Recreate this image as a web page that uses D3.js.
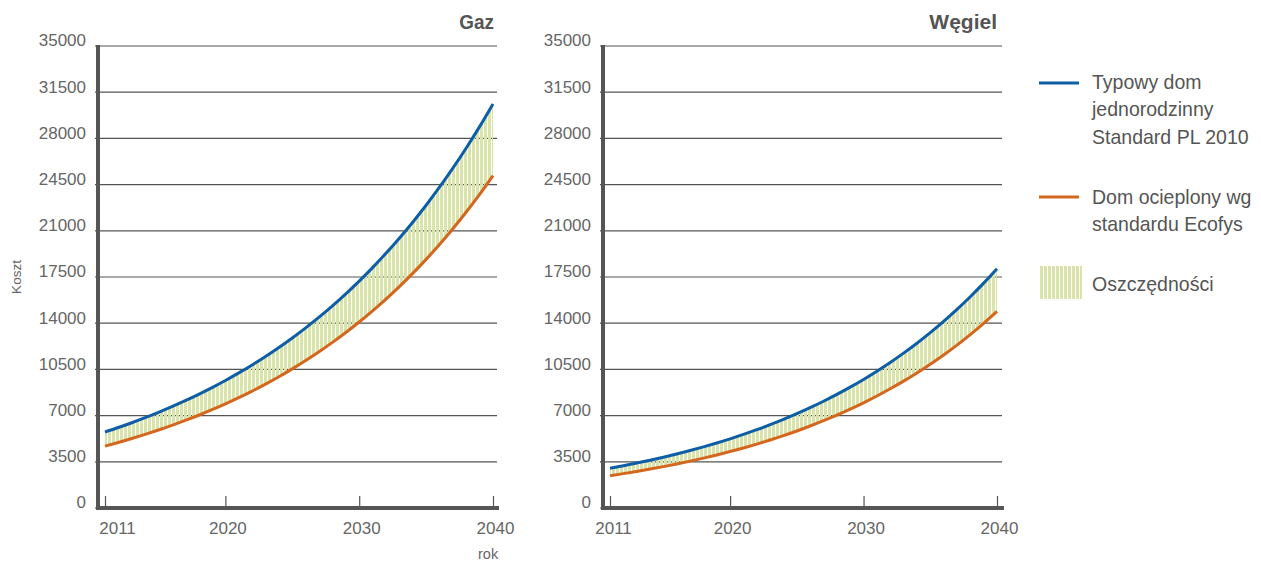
<!DOCTYPE html>
<html>
<head>
<meta charset="utf-8">
<script src="https://cdn.jsdelivr.net/npm/d3@7"></script>
<style>
  html, body { margin: 0; padding: 0; background: #fff; }
  svg { display: block; }
</style>
</head>
<body>
<svg id="chart" width="1261" height="562"></svg>
<script>
// ---------- DATA ----------
const years = [2011,2012,2013,2014,2015,2016,2017,2018,2019,2020,2021,2022,2023,2024,2025,
               2026,2027,2028,2029,2030,2031,2032,2033,2034,2035,2036,2037,2038,2039,2040];
const gazTypowy = [5720,6060,6421,6803,7208,7637,8091,8572,9083,9623,10196,10802,11445,12126,12847,
                   13612,14422,15280,16189,17152,18173,19254,20400,21613,22899,24262,25706,27235,28856,30573];
const gazEcofys = [4650,4929,5224,5537,5869,6221,6594,6989,7408,7852,8322,8821,9350,9910,10504,
                   11133,11800,12508,13257,14052,14894,15786,16733,17735,18798,19925,21119,22385,23726,25148];
const wegielTypowy = [2970,3161,3364,3580,3810,4055,4316,4593,4889,5203,5537,5893,6272,6675,7105,
                      7561,8047,8565,9115,9701,10325,10988,11695,12447,13247,14098,15005,15969,16996,18088];
const wegielEcofys = [2410,2566,2732,2909,3097,3298,3511,3738,3980,4238,4512,4804,5115,5446,5798,
                      6173,6573,6998,7451,7933,8446,8993,9575,10194,10854,11556,12304,13100,13948,14850];
const yTicks = [0,3500,7000,10500,14000,17500,21000,24500,28000,31500,35000];
const xTicks = [2011,2020,2030,2040];
const panelTitles = ["Gaz","Węgiel"];
const legendLabels = [
  ["Typowy dom","jednorodzinny","Standard PL 2010"],
  ["Dom ocieplony wg","standardu Ecofys"],
  ["Oszczędności"]
];
const yAxisLabel = "Koszt";
const xAxisLabel = "rok";

// ---------- STYLE ----------
const BLUE = "#0d5ea6", ORANGE = "#d4661e", HATCH = "#d9e4aa", AXIS = "#555", TEXT = "#666", TITLE = "#555";
const FONT = '"Liberation Sans", Arial, sans-serif';

const svg = d3.select("#chart");
const defs = svg.append("defs");
const pat = defs.append("pattern").attr("id","hatch").attr("patternUnits","userSpaceOnUse")
  .attr("width",4).attr("height",10);
pat.append("rect").attr("x",0).attr("y",0).attr("width",3).attr("height",10).attr("fill",HATCH);

const y = d3.scaleLinear().domain([0,35000]).range([507.5,45.5]);

function panel(cfg) {
  const g = svg.append("g");
  const x = d3.scaleLinear().domain([2011,2040]).range([cfg.xa, cfg.xb]);

  // grid + y labels
  const yAx = d3.axisLeft(y).tickValues(yTicks).tickFormat(d3.format("d"))
    .tickSizeInner(-(cfg.gridEnd - cfg.gridStart)).tickSizeOuter(0).tickPadding(9);
  const yg = g.append("g").attr("transform",`translate(${cfg.gridStart},0)`).call(yAx);
  yg.select(".domain").remove();
  yg.selectAll(".tick line").attr("stroke",AXIS).attr("stroke-width",1.2);
  yg.selectAll(".tick text").attr("font-size",17).attr("font-family",FONT).attr("fill",TEXT).attr("dy","0.02em");

  // x ticks
  const xAx = d3.axisBottom(x).tickValues(xTicks).tickFormat(d3.format("d"))
    .tickSizeInner(-12).tickSizeOuter(0).tickPadding(14);
  const xg = g.append("g").attr("transform","translate(0,508)").call(xAx);
  xg.select(".domain").remove();
  xg.selectAll(".tick line").attr("stroke",AXIS).attr("stroke-width",1.2);
  xg.selectAll(".tick text").attr("font-size",17).attr("font-family",FONT).attr("fill",TEXT)
    .attr("dx", d => d === 2011 ? cfg.firstDx : 2);

  // area
  const rows = years.map((yr,i) => ({yr, hi: cfg.hi[i], lo: cfg.lo[i]}));
  const area = d3.area().x(d => x(d.yr)).y0(d => y(d.lo)).y1(d => y(d.hi)).curve(d3.curveMonotoneX);
  g.append("path").datum(rows).attr("d",area).attr("fill","url(#hatch)");

  const line = key => d3.line().x(d => x(d.yr)).y(d => y(d[key])).curve(d3.curveMonotoneX);
  g.append("path").datum(rows).attr("d",line("lo")).attr("fill","none").attr("stroke",ORANGE).attr("stroke-width",3);
  g.append("path").datum(rows).attr("d",line("hi")).attr("fill","none").attr("stroke",BLUE).attr("stroke-width",3);

  // thick axes
  g.append("line").attr("x1",cfg.axisX).attr("x2",cfg.axisX).attr("y1",45).attr("y2",510)
    .attr("stroke",AXIS).attr("stroke-width",4);
  g.append("line").attr("x1",cfg.gridStart+1).attr("x2",cfg.gridEnd+2).attr("y1",508).attr("y2",508)
    .attr("stroke",AXIS).attr("stroke-width",4);

  // title
  g.append("text").attr("transform",`translate(${cfg.titleX},29) scale(${cfg.titleScale},1)`).attr("text-anchor","end")
    .attr("font-family",FONT).attr("font-weight","bold").attr("font-size",21).attr("fill",TITLE)
    .text(cfg.title);
}

panel({xa:105, xb:493, gridStart:95, gridEnd:497, axisX:98, titleX:494, title:panelTitles[0], titleScale:0.9,
       hi:gazTypowy, lo:gazEcofys, firstDx:12});
panel({xa:610, xb:997, gridStart:600, gridEnd:1002, axisX:603, titleX:997, title:panelTitles[1], titleScale:1,
       hi:wegielTypowy, lo:wegielEcofys, firstDx:3});

// axis labels
svg.append("text").attr("transform","translate(21,277) rotate(-90)").attr("text-anchor","middle")
  .attr("font-family",FONT).attr("font-size",13.5).attr("fill",TEXT).text(yAxisLabel);
svg.append("text").attr("x",478).attr("y",559).attr("font-family",FONT).attr("font-size",14.5)
  .attr("fill",TEXT).text(xAxisLabel);

// legend
const lg = svg.append("g");
const LX = 1092;
lg.append("line").attr("x1",1039).attr("x2",1079).attr("y1",83).attr("y2",83).attr("stroke",BLUE).attr("stroke-width",3);
lg.append("line").attr("x1",1039).attr("x2",1079).attr("y1",197).attr("y2",197).attr("stroke",ORANGE).attr("stroke-width",3);
lg.append("rect").attr("x",1040).attr("y",266).attr("width",42).attr("height",33).attr("fill","url(#hatch)");
const starts = [88.5, 203.5, 290.5];
legendLabels.forEach((lines, k) => {
  lines.forEach((t, j) => {
    lg.append("text").attr("transform",`translate(${LX},${starts[k] + j*27.5}) scale(0.93,1)`)
      .attr("font-family",FONT).attr("font-size",21).attr("fill","#555").text(t);
  });
});
</script>
</body>
</html>
